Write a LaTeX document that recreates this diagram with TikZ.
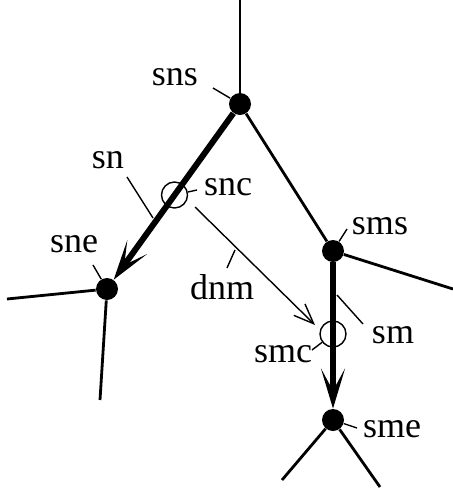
\documentclass[tikz,border=0pt]{standalone}
\usepackage{fontspec}
\setmainfont{Liberation Serif}
\usetikzlibrary{arrows.meta}
\tikzset{
  dot/.style={circle,fill,inner sep=0pt,minimum size=11pt},
  ring/.style={circle,draw,line width=0.7pt,inner sep=0pt,minimum size=13pt},
  lbl/.style={inner sep=0pt,font=\fontsize{18}{20}\selectfont},
  edge/.style={line width=1.4pt},
  heavy/.style={line width=3pt,-{Stealth[length=20pt,width=12pt,inset=11pt]}},
  leader/.style={line width=0.7pt},
  drift/.style={line width=0.7pt,-{Straight Barb[length=10pt,width=8pt]}}
}
\begin{document}
\begin{tikzpicture}[x=0.5pt,y=-0.5pt]
   \useasboundingbox (0,0) rectangle (453,493);
   \node[dot] (sns) at (240,104) {};
   \node[dot] (sne) at (107,289) {};
   \node[dot] (sms) at (333,251) {};
   \node[dot] (sme) at (333,420) {};
   \node[ring] (snc) at (174.5,195) {};
   \node[ring] (smc) at (333,334) {};
   \coordinate (snsUp) at (240,0);
   \coordinate (sneW) at (7,299);
   \coordinate (sneS) at (100,400);
   \coordinate (smsE) at (453,289);
   \coordinate (smeSW) at (282,480);
   \coordinate (smeSE) at (380,487);
   \draw[edge] (snsUp) -- (sns);
   \draw[edge] (sns) -- (sms);
   \draw[edge] (sne) -- (sneW);
   \draw[edge] (sne) -- (sneS);
   \draw[edge] (sms) -- (smsE);
   \draw[edge] (sme) -- (smeSW);
   \draw[edge] (sme) -- (smeSE);
   \draw[heavy] (sns) -- (sne);
   \draw[heavy] (sms) -- (sme);
   \coordinate (dnmA) at (195,207);
   \coordinate (dnmB) at (315,325);
   \draw[drift] (dnmA) -- (dnmB);
   \node[lbl] (snsL) at (175,77) {sns};
   \node[lbl] (snL) at (108,160) {sn};
   \node[lbl] (sncL) at (228,187) {snc};
   \node[lbl] (sneL) at (74,244) {sne};
   \node[lbl] (smsL) at (380,226) {sms};
   \node[lbl] (smL) at (393,335) {sm};
   \node[lbl] (smcL) at (283,354) {smc};
   \node[lbl] (smeL) at (392,429) {sme};
   \node[lbl] (dnmL) at (222,287) {dnm};
   \coordinate (snsT) at (213,88);
   \coordinate (snT1) at (127,177);
   \coordinate (snT2) at (153,218);
   \coordinate (sncT) at (197,190);
   \coordinate (sneT) at (93,265);
   \coordinate (smsT) at (347,229);
   \coordinate (smT1) at (337,295);
   \coordinate (smT2) at (363,324);
   \coordinate (smcT) at (312,350);
   \coordinate (smeT) at (357,428);
   \coordinate (dnmT1) at (227,268);
   \coordinate (dnmT2) at (235,250);
   \draw[leader] (snsT) -- (sns);
   \draw[leader] (snT1) -- (snT2);
   \draw[leader] (snc) -- (sncT);
   \draw[leader] (sneT) -- (sne);
   \draw[leader] (smsT) -- (sms);
   \draw[leader] (smT1) -- (smT2);
   \draw[leader] (smc) -- (smcT);
   \draw[leader] (sme) -- (smeT);
   \draw[leader] (dnmT1) -- (dnmT2);
\end{tikzpicture}
\end{document}
